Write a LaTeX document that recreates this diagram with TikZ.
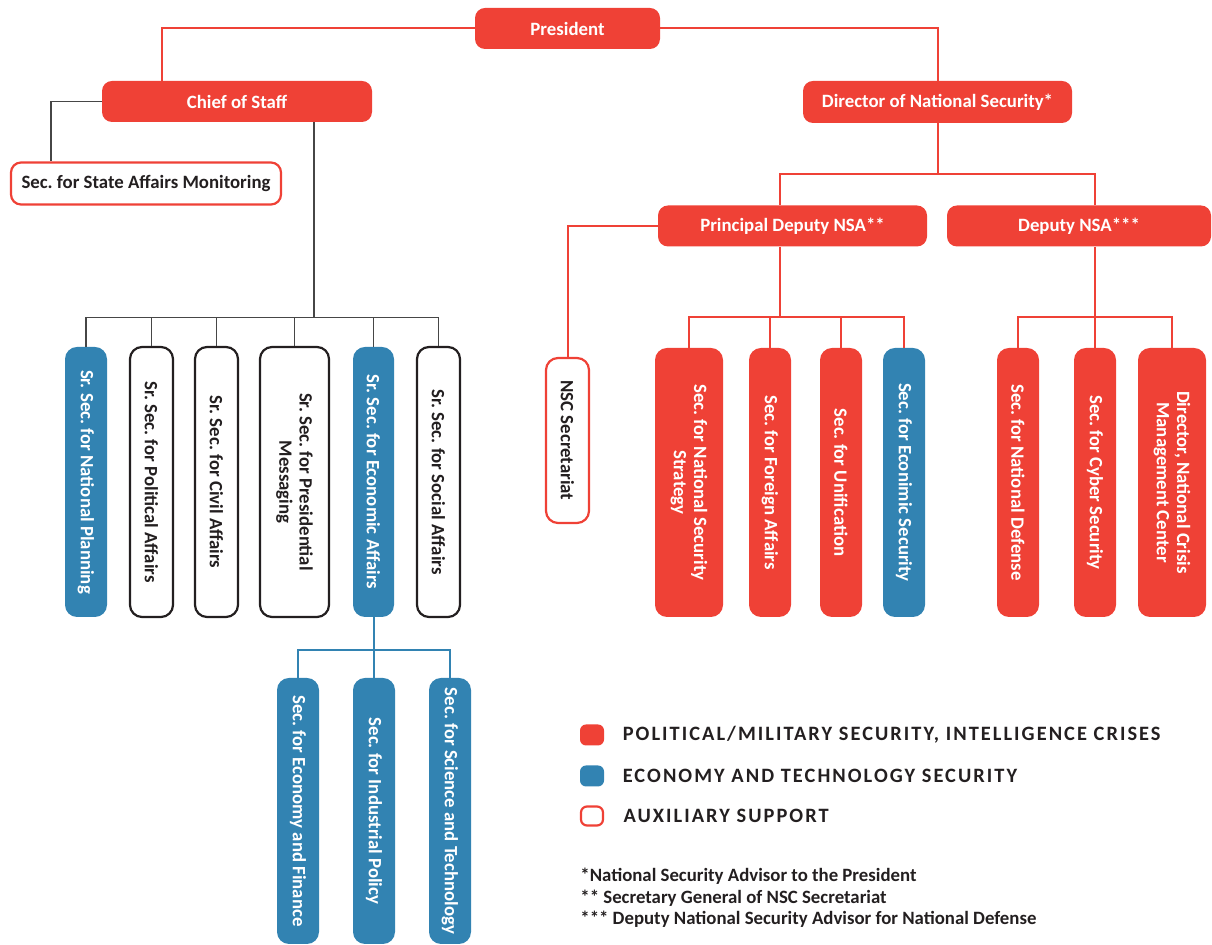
\documentclass[tikz,border=0pt]{standalone}
\usepackage{fontspec}
\setmainfont{Carlito}
\usepackage{tikz}
\definecolor{orgred}{RGB}{239,65,54}
\definecolor{orgblue}{RGB}{50,131,178}
\definecolor{orggray}{RGB}{70,70,70}
\definecolor{orgink}{RGB}{35,31,32}
\usetikzlibrary{positioning,calc}
\frenchspacing

\begin{document}
\begin{tikzpicture}[x=0.5pt,y=-0.5pt,
  box/.style={rounded corners=5pt,inner sep=0pt,align=center,
              font=\fontsize{9.4}{10.2}\selectfont\bfseries},
  redbox/.style={box,fill=orgred,text=white},
  bluebox/.style={box,fill=orgblue,text=white},
  auxbox/.style={box,draw=orgred,line width=1.1pt,fill=white,text=orgink},
  inkbox/.style={box,draw=orgink,line width=1.1pt,fill=white,text=orgink},
  vert/.style={rotate=-90,rounded corners=6pt},
  redline/.style={orgred,line width=1pt},
  grayline/.style={orggray,line width=0.6pt},
  blueline/.style={orgblue,line width=1pt},
  legtext/.style={anchor=west,inner sep=0pt,text=orgink,
                  font=\fontsize{10.2}{11}\selectfont\bfseries\addfontfeature{LetterSpace=10}},
  note/.style={inner sep=0pt,align=left,text=orgink,
               font=\fontsize{9.4}{10.75}\selectfont\bfseries}]
  \useasboundingbox (0,0) rectangle (1212,945);

  % top level
  \node[redbox,minimum width=92.5pt,minimum height=20.5pt] (pres) at (567.5,28.5) {President};
  \node[redbox,minimum width=135pt,minimum height=20.5pt] (cos) at (237,101.5) {Chief of Staff};
  \node[auxbox,minimum width=135pt,minimum height=21pt] (sam) at (146,183.5) {Sec. for State Affairs Monitoring};
  \node[redbox,minimum width=134.5pt,minimum height=21pt] (dns) at (937.5,102) {Director of National Security*};
  \node[redbox,minimum width=134.5pt,minimum height=20.5pt] (pdn) at (792.5,226) {Principal Deputy NSA**};
  \node[redbox,minimum width=132pt,minimum height=20.5pt] (dpn) at (1079,226) {Deputy NSA***};

  % chief of staff column
  \node[bluebox,vert,minimum width=135pt,minimum height=21pt] (np) at (86,482) {Sr. Sec. for National Planning};
  \node[inkbox,vert,minimum width=135pt,minimum height=21.5pt] (pa) at (151.5,482) {Sr. Sec. for Political Affairs};
  \node[inkbox,vert,minimum width=135pt,minimum height=21.5pt] (ca) at (216.5,482) {Sr. Sec. for Civil Affairs};
  \node[inkbox,vert,minimum width=135pt,minimum height=34.5pt] (pm) at (294.5,482) {Sr. Sec. for Presidential\\Messaging};
  \node[bluebox,vert,minimum width=135pt,minimum height=20.5pt] (ea) at (373.5,482) {Sr. Sec. for Economic Affairs};
  \node[inkbox,vert,minimum width=135pt,minimum height=21.5pt] (sa) at (438.5,482) {Sr. Sec. for Social Affairs};

  \node[bluebox,vert,minimum width=133pt,minimum height=21pt] (ef) at (298,811) {Sec. for Economy and Finance};
  \node[bluebox,vert,minimum width=133pt,minimum height=21pt] (ip) at (374,811) {Sec. for Industrial Policy};
  \node[bluebox,vert,minimum width=133pt,minimum height=21pt] (st) at (450,811) {Sec. for Science and Technology};

  % national security column
  \node[auxbox,vert,minimum width=82.5pt,minimum height=21.5pt] (nsc) at (567.5,440.5) {NSC Secretariat};
  \node[redbox,vert,minimum width=134.5pt,minimum height=34pt] (nss) at (689,482.5) {Sec. for National Security\\Strategy};
  \node[redbox,vert,minimum width=134.5pt,minimum height=21pt] (fa) at (770,482.5) {Sec. for Foreign Affairs};
  \node[redbox,vert,minimum width=134.5pt,minimum height=21pt] (un) at (841,482.5) {Sec. for Unification};
  \node[bluebox,vert,minimum width=134.5pt,minimum height=21pt] (es) at (904,482.5) {Sec. for Econimic Security};
  \node[redbox,vert,minimum width=134.5pt,minimum height=21pt] (nd) at (1018,482.5) {Sec. for National Defense};
  \node[redbox,vert,minimum width=134.5pt,minimum height=21pt] (cy) at (1095,482.5) {Sec. for Cyber Security};
  \node[redbox,vert,minimum width=134.5pt,minimum height=34pt] (cm) at (1172,482.5) {Director, National Crisis\\Management Center};

  % connectors
  \draw[redline] (pres.west) -| ($(cos.north)+(-75,0)$);
  \draw[redline] (pres.east) -| (dns.north);
  \draw[grayline] (cos.west) -| ($(sam.north)+(-95,0)$);
  \draw[grayline] ($(cos.south)+(77,0)$) -- ++(0,196);
  \draw[grayline] (np.west) -- ++(0,-29) -| (sa.west);
  \foreach \n in {pa,ca,pm,ea}
    \draw[grayline] (\n.west) -- ++(0,-29);
  \draw[blueline] (ea.east) -- ++(0,33);
  \draw[blueline] (ef.west) -- ++(0,-28) -| (st.west);
  \draw[blueline] (ip.west) -- ++(0,-28);

  \draw[redline] (dns.south) -- ++(0,51);
  \draw[redline] ($(pdn.north)+(-12.5,0)$) |- ($(dns.south)+(0,51)$) -| ($(dpn.north)+(16,0)$);
  \draw[redline] (pdn.west) -| (nsc.west);
  \draw[redline] ($(pdn.south)+(-12.5,0)$) -- ++(0,71);
  \draw[redline] (nss.west) -- ++(0,-31) -| (es.west);
  \foreach \n in {fa,un}
    \draw[redline] (\n.west) -- ++(0,-31);
  \draw[redline] ($(dpn.south)+(16,0)$) -- ++(0,71);
  \draw[redline] (nd.west) -- ++(0,-31) -| (cm.west);
  \draw[redline] (cy.west) -- ++(0,-31);

  % legend
  \node[redbox,minimum width=12pt,minimum height=10.5pt,rounded corners=3pt] (kpol) at (592,735) {};
  \node[bluebox,minimum width=12pt,minimum height=10.5pt,rounded corners=3pt] (keco) at (592,776) {};
  \node[auxbox,minimum width=11pt,minimum height=9.5pt,rounded corners=3pt] (kaux) at (592,816) {};
  \node[legtext,right=9pt of kpol] (tpol) {POLITICAL/MILITARY SECURITY, INTELLIGENCE CRISES};
  \node[legtext,right=9pt of keco] (teco) {ECONOMY AND TECHNOLOGY SECURITY};
  \node[legtext,right=9.5pt of kaux] (taux) {AUXILIARY SUPPORT};

  \node[note,anchor=north west] (notes) at (580,868)
    {*National Security Advisor to the President\\
     ** Secretary General of NSC Secretariat\\
     *** Deputy National Security Advisor for National Defense};
\end{tikzpicture}
\end{document}
